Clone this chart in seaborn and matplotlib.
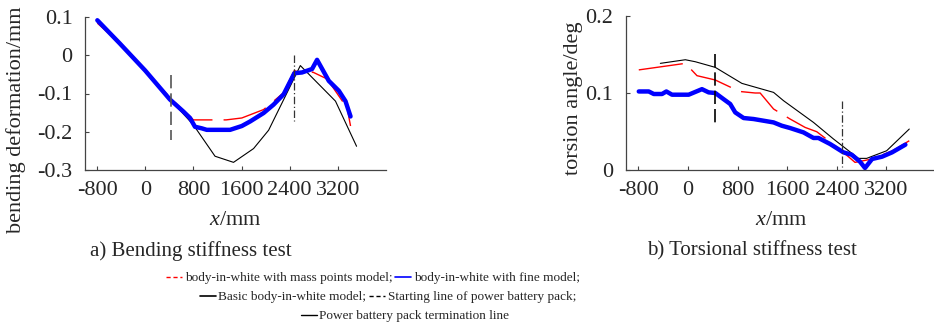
import matplotlib
matplotlib.use("Agg")
import matplotlib.pyplot as plt
from matplotlib.lines import Line2D
import seaborn as sns

sns.set_theme(style="ticks")
plt.rcParams['font.family'] = ['Liberation Serif', 'DejaVu Serif']
plt.rcParams['mathtext.fontset'] = 'custom'
plt.rcParams['mathtext.it'] = 'Liberation Serif:italic'
plt.rcParams['mathtext.rm'] = 'Liberation Serif'

# ---- bending stiffness (left) ----
bend_x_fine = [-795, -423, 0, 410, 633, 744, 827, 938, 1022, 1410, 1605, 1744, 1967,
               2133, 2300, 2477, 2605, 2772, 2855, 3050, 3217, 3327, 3411]
bend_y_fine = [0.0915, 0.031, -0.04, -0.1155, -0.147, -0.164, -0.187, -0.191, -0.195,
               -0.195, -0.185, -0.173, -0.151, -0.129, -0.102, -0.047, -0.045, -0.036,
               -0.012, -0.067, -0.093, -0.12, -0.16]
bend_x_mass = [-795, -400, 0, 410, 633, 744, 800, 1344, 1605, 1967, 2300, 2477, 2661,
               2783, 3022, 3355, 3411]
bend_y_mass = [0.084, 0.028, -0.042, -0.11, -0.145, -0.16, -0.169, -0.169, -0.164,
               -0.142, -0.098, -0.04, -0.051, -0.044, -0.062, -0.138, -0.185]
bend_x_basic = [-795, -423, 0, 410, 800, 1160, 1467, 1800, 2050, 2300, 2577, 3161, 3511]
bend_y_basic = [0.0915, 0.031, -0.04, -0.115, -0.182, -0.264, -0.28, -0.244, -0.196,
                -0.116, -0.027, -0.12, -0.238]

# ---- torsional stiffness (right) ----
tors_x_fine = [-794, -633, -552, -419, -349, -258, 11, 225, 333, 440, 574, 681, 762,
               897, 1058, 1219, 1380, 1513, 1647, 1863, 2024, 2104, 2291, 2507, 2640,
               2774, 2855, 2969, 3130, 3291, 3506]
tors_y_fine = [0.102, 0.102, 0.0987, 0.0987, 0.102, 0.0978, 0.0978, 0.105, 0.1008, 0.100,
               0.092, 0.0857, 0.0748, 0.0675, 0.0662, 0.064, 0.0618, 0.0575, 0.0545,
               0.0488, 0.0416, 0.0416, 0.0338, 0.0229, 0.0199, 0.0108, 0.0026, 0.0143,
               0.0173, 0.0229, 0.0329]
tors_x_mass = [-794, -43, 145, 440, 520, 832, 1083, 1164, 1380, 1647, 1889, 2077, 2372,
               2587, 2694, 2969, 3300, 3569]
tors_y_mass = [0.130, 0.1385, 0.1225, 0.1169, 0.1138, 0.102, 0.100, 0.100, 0.0792,
               0.0662, 0.0553, 0.0497, 0.0316, 0.0173, 0.0099, 0.0143, 0.025, 0.038]
tors_x_basic = [-446, -43, 118, 440, 574, 869, 1380, 1541, 2024, 2346, 2748, 2882, 3204, 3569]
tors_y_basic = [0.1385, 0.1432, 0.1406, 0.1333, 0.1268, 0.1125, 0.1008, 0.09, 0.0618,
                0.0403, 0.0151, 0.0151, 0.025, 0.0532]

# battery pack start / end lines (x position, y from, y to)
start_x = 430
end_x = 2480
bend_start_span = [-0.051, -0.222]
bend_end_span = [0.0, -0.173]
tors_start_span = [0.151, 0.058]
tors_end_span = [0.09, 0.004]

xticks = [-800, 0, 800, 1600, 2400, 3200]
bend_yticks = [-0.3, -0.2, -0.1, 0, 0.1]
bend_yticklabels = ['-0.3', '-0.2', '-0.1', '0', '0.1']
tors_yticks = [0, 0.1, 0.2]
tors_yticklabels = ['0', '0.1', '0.2']

legend_labels = ['body-in-white with mass points model;', 'body-in-white with fine model;',
                 'Basic body-in-white model;', 'Starting line of power battery pack;',
                 'Power battery pack termination line']

red_dash = (0, (32, 8))

fig = plt.figure(figsize=(9.34, 3.27), dpi=100)
ax1 = fig.add_axes([85 / 934, 157 / 327, 301 / 934, 153 / 327])
ax2 = fig.add_axes([626 / 934, 157 / 327, 310 / 934, 154 / 327])


def draw(ax, xf, yf, xm, ym, xb, yb, s_span, e_span, start_col):
    sns.lineplot(x=xb, y=yb, ax=ax, color='black', lw=0.8, sort=False, estimator=None)
    sns.lineplot(x=xm, y=ym, ax=ax, color='red', lw=1.0, linestyle=red_dash,
                 sort=False, estimator=None)
    sns.lineplot(x=xf, y=yf, ax=ax, color='#0000ff', lw=3.2, sort=False, estimator=None)
    ax.vlines(start_x, s_span[0], s_span[1], colors=start_col, lw=1.2,
              linestyles=(0, (8, 3)))
    ax.vlines(end_x, e_span[0], e_span[1], colors='#333333', lw=0.9,
              linestyles=(0, (6, 2, 1, 2)))
    ax.set_xlim(-1000, 4000)
    ax.set_xticks(xticks)
    ax.set_xticklabels([str(t) for t in xticks])
    for s in ['top', 'right']:
        ax.spines[s].set_visible(False)
    for s in ['left', 'bottom']:
        ax.spines[s].set_color('#444444')
        ax.spines[s].set_linewidth(0.9)
    ax.tick_params(direction='in', length=3, width=0.8, color='#444444',
                   labelsize=16, pad=8)
    ax.tick_params(axis='y', pad=9)
    ax.set_xlabel('$x$/mm', fontsize=16, labelpad=8)


draw(ax1, bend_x_fine, bend_y_fine, bend_x_mass, bend_y_mass, bend_x_basic, bend_y_basic,
     bend_start_span, bend_end_span, '#555555')
ax1.set_ylim(-0.3, 0.1)
ax1.set_yticks(bend_yticks)
ax1.set_yticklabels(bend_yticklabels)
ax1.set_ylabel('bending deformation/mm', fontsize=16)
ax1.yaxis.set_label_coords(-0.196, 0.33)

draw(ax2, tors_x_fine, tors_y_fine, tors_x_mass, tors_y_mass, tors_x_basic, tors_y_basic,
     tors_start_span, tors_end_span, 'black')
ax2.set_ylim(0, 0.2)
ax2.set_yticks(tors_yticks)
ax2.set_yticklabels(tors_yticklabels)
ax2.set_ylabel('torsion angle/deg', fontsize=16)
ax2.yaxis.set_label_coords(-0.139, 0.464)

fig.text(191 / 934, 1 - 251 / 327, 'a) Bending stiffness test', fontsize=15,
         ha='center', va='center')
fig.text(752 / 934, 1 - 251 / 327, 'b) Torsional stiffness test', fontsize=15,
         ha='center', va='center')

h_mass = Line2D([], [], color='red', lw=1.0, linestyle=(0, (3, 2)))
h_fine = Line2D([], [], color='#0000ff', lw=1.2)
h_basic = Line2D([], [], color='black', lw=1.2)
h_start = Line2D([], [], color='black', lw=1.0, linestyle=(0, (3, 2)))
h_end = Line2D([], [], color='black', lw=1.0)

rows = [([h_mass, h_fine], legend_labels[0:2], 373, 278),
        ([h_basic, h_start], legend_labels[2:4], 388, 297),
        ([h_end], legend_labels[4:5], 405, 316)]
for hs, labs, cx, cy in rows:
    fig.legend(hs, labs, loc='center', bbox_to_anchor=(cx / 934, 1 - cy / 327),
               ncol=len(hs), frameon=False, fontsize=9.5, handlelength=1.2,
               handletextpad=0.2, columnspacing=0.2, borderpad=0, borderaxespad=0)

fig.savefig('out.png', dpi=100)
